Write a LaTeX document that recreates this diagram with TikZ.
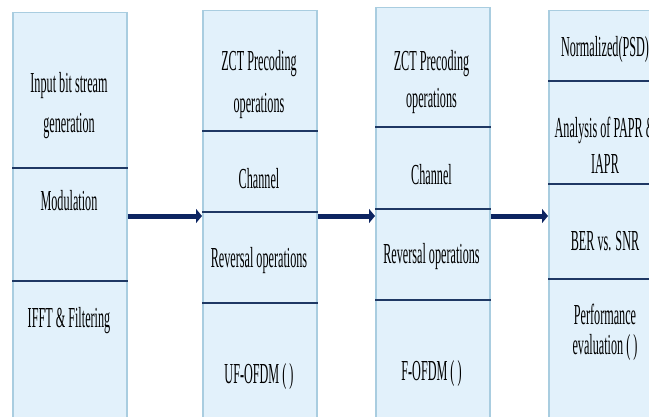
\documentclass[tikz,border=0pt]{standalone}
\usepackage{fontspec}
\setmainfont{Liberation Serif}
\newfontfamily\narrowserif[FakeStretch=0.42]{Liberation Serif}
\usepackage{tikz}
\usetikzlibrary{arrows.meta,positioning}
\definecolor{cellfill}{HTML}{E2F1FB}
\definecolor{cellborder}{HTML}{A9CDE0}
\definecolor{divider}{HTML}{1F3864}
\definecolor{flowblue}{HTML}{0C2461}

\begin{document}
\begin{tikzpicture}[x=1pt,y=1pt,
	stage/.style={rectangle,draw=cellborder,fill=cellfill,line width=1.5pt,minimum width=114pt,inner sep=0pt,anchor=north west},
	cell/.style={font=\narrowserif\fontsize{29}{35}\selectfont,text=black,anchor=base,inner sep=0pt},
	split/.style={draw=divider,line width=1.5pt},
	flow/.style={draw=flowblue,line width=5pt,-{Triangle[length=6pt,width=14pt]}}]
		\useasboundingbox (0,0) rectangle (649,416);
		\clip (0,0) rectangle (649,416);
		% the four stages
		\node (txcol) [stage,minimum height=420pt] at (12,404) {};
		\node (ufcol) [stage,minimum height=420pt] at (202,406) {};
		\node (fcol) [stage,minimum height=420pt] at (375,409) {};
		\node (evalcol) [stage,minimum height=420pt] at (548,406) {};
		% dividers
		\foreach \y in {248,135}
			\draw [split] (txcol.west |- 0,\y) -- (txcol.east |- 0,\y);
		\foreach \y in {285,204,113}
			\draw [split] (ufcol.west |- 0,\y) -- (ufcol.east |- 0,\y);
		\foreach \y in {289,207,116}
			\draw [split] (fcol.west |- 0,\y) -- (fcol.east |- 0,\y);
		\foreach \y in {335,232,137}
			\draw [split] (evalcol.west |- 0,\y) -- (evalcol.east |- 0,\y);
		% texts
		\node (inbits) [cell] at (69,323) {Input bit stream};
		\node (gen) [cell] at (69,283) {generation};
		\node (modul) [cell] at (69,206) {Modulation};
		\node (ifft) [cell] at (69,89) {IFFT \& Filtering};
		\node (zcta) [cell] at (259,345) {ZCT Precoding};
		\node (opsa) [cell] at (259,303) {operations};
		\node (chana) [cell] at (259,228) {Channel};
		\node (reva) [cell] at (259,149) {Reversal operations};
		\node (ufofdm) [cell] at (259,33) {UF-OFDM ( )};
		\node (zctb) [cell] at (431.5,345) {ZCT Precoding};
		\node (opsb) [cell] at (431.5,308) {operations};
		\node (chanb) [cell] at (431.5,231) {Channel};
		\node (revb) [cell] at (431.5,153) {Reversal operations};
		\node (fofdm) [cell] at (431.5,36) {F-OFDM ( )};
		\node (psd) [cell] at (605,359) {Normalized(PSD)};
		\node (papr) [cell] at (605,278) {Analysis of PAPR \&};
		\node (iapr) [cell] at (605,243) {IAPR};
		\node (ber) [cell] at (605,166) {BER vs. SNR};
		\node (perf) [cell] at (605,92) {Performance};
		\node (evalu) [cell] at (605,62) {evaluation ( )};
		% arrows
		\draw [flow] (txcol.east |- 0,200) -- (ufcol.west |- 0,200);
		\draw [flow] (ufcol.east |- 0,200) -- (fcol.west |- 0,200);
		\draw [flow] (fcol.east |- 0,200) -- (evalcol.west |- 0,200);
\end{tikzpicture}
\end{document}
